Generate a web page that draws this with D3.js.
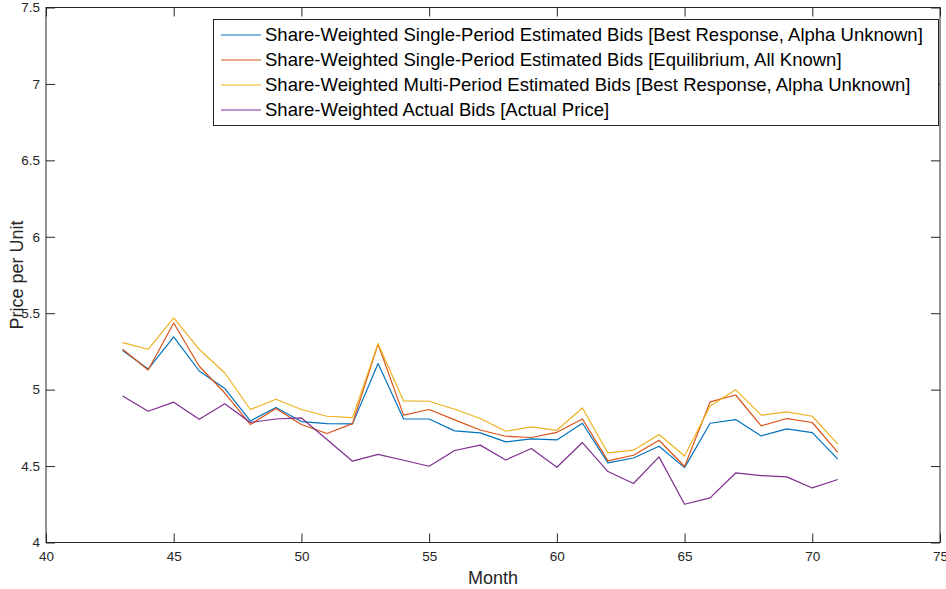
<!DOCTYPE html>
<html>
<head>
<meta charset="utf-8">
<script src="https://cdn.jsdelivr.net/npm/d3@7"></script>
<style>
  html, body { margin: 0; padding: 0; background: #fff; }
  svg { display: block; font-family: "Liberation Sans", Arial, Helvetica, sans-serif; }
</style>
</head>
<body>
<svg id="chart" width="946" height="589"></svg>
<script>
// Month index for every observation
const months = [43, 44, 45, 46, 47, 48, 49, 50, 51, 52, 53, 54, 55, 56, 57,
                58, 59, 60, 61, 62, 63, 64, 65, 66, 67, 68, 69, 70, 71];

// Share-weighted bid series (price per unit)
const singleBestResponse = [5.256, 5.135, 5.345, 5.122, 5.007, 4.795, 4.883, 4.791, 4.778, 4.776,
                            5.171, 4.808, 4.808, 4.730, 4.717, 4.658, 4.678, 4.671, 4.780, 4.521,
                            4.553, 4.630, 4.490, 4.780, 4.804, 4.697, 4.743, 4.719, 4.545];
const singleEquilibrium  = [5.264, 5.129, 5.436, 5.153, 4.978, 4.772, 4.876, 4.772, 4.713, 4.778,
                            5.298, 4.833, 4.870, 4.802, 4.736, 4.695, 4.687, 4.721, 4.808, 4.534,
                            4.571, 4.669, 4.497, 4.920, 4.965, 4.763, 4.811, 4.785, 4.589];
const multiBestResponse  = [5.308, 5.264, 5.469, 5.264, 5.109, 4.870, 4.937, 4.870, 4.826, 4.817,
                            5.301, 4.926, 4.924, 4.872, 4.811, 4.728, 4.756, 4.734, 4.880, 4.586,
                            4.604, 4.706, 4.566, 4.893, 5.000, 4.833, 4.854, 4.826, 4.643];
const actualBids         = [4.959, 4.859, 4.918, 4.806, 4.907, 4.785, 4.808, 4.815, 4.674, 4.532,
                            4.576, 4.538, 4.499, 4.602, 4.637, 4.540, 4.615, 4.492, 4.654, 4.464,
                            4.386, 4.560, 4.250, 4.292, 4.455, 4.438, 4.429, 4.357, 4.412];

const seriesNames = [
  "Share-Weighted Single-Period Estimated Bids [Best Response, Alpha Unknown]",
  "Share-Weighted Single-Period Estimated Bids [Equilibrium, All Known]",
  "Share-Weighted Multi-Period Estimated Bids [Best Response, Alpha Unknown]",
  "Share-Weighted Actual Bids [Actual Price]"
];
const seriesColors = ["#0072BD", "#D95319", "#EDB120", "#7E2F8E"];
const seriesValues = [singleBestResponse, singleEquilibrium, multiBestResponse, actualBids];

const xTicks = [40, 45, 50, 55, 60, 65, 70, 75];
const yTicks = [4, 4.5, 5, 5.5, 6, 6.5, 7, 7.5];
const xLabel = "Month";
const yLabel = "Price per Unit";

// Layout of the axes box
const plotLeft = 46, plotRight = 940, plotTop = 7.5, plotBottom = 542.5;
const axisColor = "#262626";
const tickLen = 9;

const svg = d3.select("#chart");

const x = d3.scaleLinear().domain([40, 75]).range([plotLeft, plotRight]);
const y = d3.scaleLinear().domain([4, 7.5]).range([plotBottom, plotTop]);

// Data lines
const line = d3.line()
  .x((d, i) => x(months[i]))
  .y(d => y(d));

const plot = svg.append("g");
seriesValues.forEach((vals, k) => {
  plot.append("path")
    .datum(vals)
    .attr("d", line)
    .attr("fill", "none")
    .attr("stroke", seriesColors[k])
    .attr("stroke-width", 1.2)
    .attr("stroke-linejoin", "round");
});

// Axes: ticks drawn inward on all four sides (box style)
const bottomAxis = d3.axisBottom(x).tickValues(xTicks).tickSize(-tickLen).tickPadding(9)
  .tickFormat(d3.format("d"));
const topAxis = d3.axisTop(x).tickValues(xTicks).tickSize(-tickLen).tickFormat("");
const leftAxis = d3.axisLeft(y).tickValues(yTicks).tickSize(-tickLen).tickPadding(6)
  .tickFormat(d => d3.format("~g")(d));
const rightAxis = d3.axisRight(y).tickValues(yTicks).tickSize(-tickLen).tickFormat("");

function styleAxis(g) {
  g.select(".domain").remove();
  g.selectAll(".tick line").attr("stroke", axisColor).attr("stroke-width", 1);
  g.selectAll(".tick text")
    .attr("fill", axisColor)
    .style("font-size", "13.5px")
    .style("font-family", "'Liberation Sans', Arial, sans-serif");
}

svg.append("g").attr("transform", `translate(0,${plotBottom})`).call(bottomAxis).call(styleAxis);
svg.append("g").attr("transform", `translate(0,${plotTop})`).call(topAxis).call(styleAxis);
svg.append("g").attr("transform", `translate(${plotLeft},0)`).call(leftAxis).call(styleAxis);
svg.append("g").attr("transform", `translate(${plotRight},0)`).call(rightAxis).call(styleAxis);

// Axes box
svg.append("rect")
  .attr("x", plotLeft).attr("y", plotTop)
  .attr("width", plotRight - plotLeft).attr("height", plotBottom - plotTop)
  .attr("fill", "none")
  .attr("stroke", axisColor)
  .attr("stroke-width", 1);

// Axis titles
svg.append("text")
  .attr("x", (plotLeft + plotRight) / 2)
  .attr("y", 584)
  .attr("text-anchor", "middle")
  .attr("fill", axisColor)
  .style("font-size", "18px")
  .text(xLabel);

svg.append("text")
  .attr("transform", `translate(23,${(plotTop + plotBottom) / 2}) rotate(-90)`)
  .attr("text-anchor", "middle")
  .attr("fill", axisColor)
  .style("font-size", "18px")
  .text(yLabel);

// Legend
const legX = 213.5, legY = 19.5, legW = 725, legH = 106;
const legend = svg.append("g");
legend.append("rect")
  .attr("x", legX).attr("y", legY)
  .attr("width", legW).attr("height", legH)
  .attr("fill", "#fff")
  .attr("stroke", axisColor)
  .attr("stroke-width", 1);

seriesNames.forEach((name, k) => {
  const cy = 35 + k * 25;
  legend.append("line")
    .attr("x1", 221).attr("x2", 261)
    .attr("y1", cy).attr("y2", cy)
    .attr("stroke", seriesColors[k])
    .attr("stroke-width", 1.2);
  legend.append("text")
    .attr("x", 265)
    .attr("y", cy)
    .attr("dy", "0.35em")
    .attr("fill", "#000")
    .style("font-size", "18.5px")
    .text(name);
});
</script>
</body>
</html>
